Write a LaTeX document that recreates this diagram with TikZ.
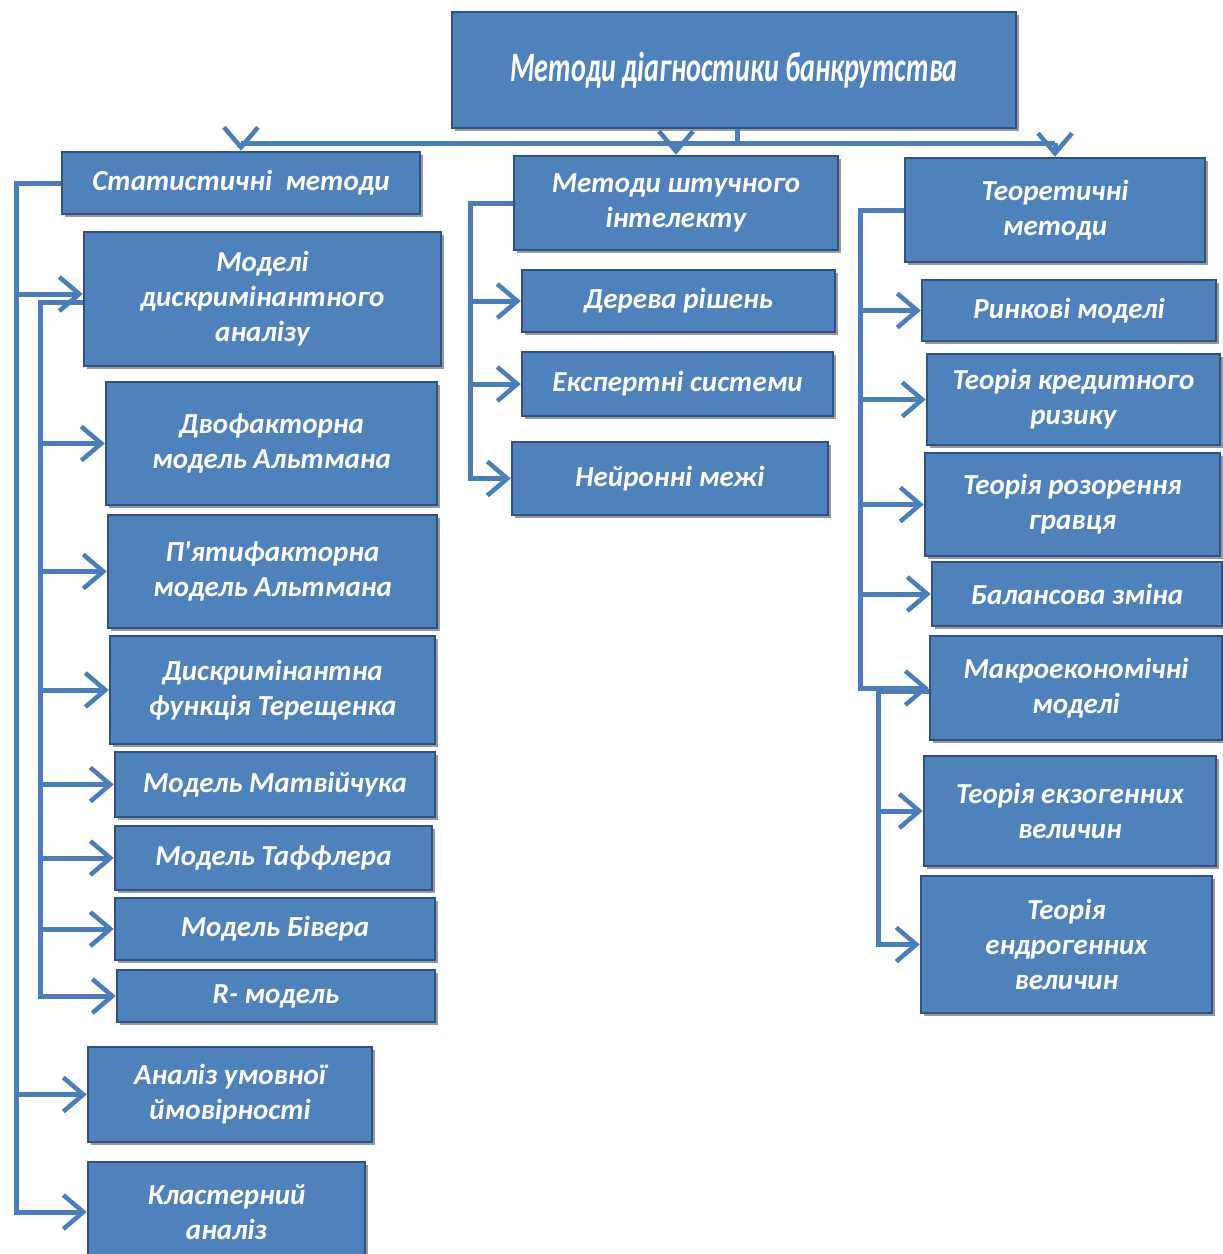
\documentclass[tikz,border=0pt]{standalone}
\usepackage{fontspec}
\usetikzlibrary{arrows.meta,shadows}
\newfontfamily\boxfont{Carlito}
\newfontfamily\titlefont{Carlito}[FakeStretch=0.67]
\definecolor{boxc}{HTML}{4F81BD}
\definecolor{bordc}{HTML}{2F5283}
\definecolor{linec}{HTML}{4A7EBB}
\tikzset{
  bx/.style={draw=bordc, line width=2.5pt, fill=boxc, text=white,
    font=\boxfont\bfseries\itshape\fontsize{29}{35}\selectfont,
    align=center, inner sep=2pt,
    drop shadow={shadow xshift=3pt, shadow yshift=-3pt, fill=black, opacity=.4}},
  ln/.style={draw=linec, line width=5pt},
  ar/.style={ln, -{Straight Barb[length=20pt, width=34pt, line width=4.5pt]}}
}
\begin{document}
\begin{tikzpicture}[x=1pt,y=-1pt]
\useasboundingbox[fill=white] (0,0) rectangle (1223,1254);

% top
\node[bx, minimum width=564, minimum height=116,
  font=\titlefont\bfseries\itshape\fontsize{42}{46}\selectfont] (top) at (734,70) {Методи діагностики банкрутства};

% left column
\node[bx, minimum width=358, minimum height=62] (stat) at (241,183) {Статистичні\ \ методи};
\node[bx, minimum width=357, minimum height=134] (mda) at (262.5,299) {Моделі\\дискримінантного\\аналізу};
\node[bx, minimum width=331, minimum height=123] (alt2) at (271.5,443.5) {Двофакторна\\модель Альтмана};
\node[bx, minimum width=329, minimum height=113] (alt5) at (272.5,571.5) {П'ятифакторна\\модель Альтмана};
\node[bx, minimum width=325, minimum height=108] (ter) at (272.5,690) {Дискримінантна\\функція Терещенка};
\node[bx, minimum width=320, minimum height=65] (mat) at (275,784.5) {Модель Матвійчука};
\node[bx, minimum width=317, minimum height=64] (taf) at (273.5,858) {Модель Таффлера};
\node[bx, minimum width=320, minimum height=62] (biv) at (275,929) {Модель Бівера};
\node[bx, minimum width=318, minimum height=52] (rmod) at (276,996) {R- модель};
\node[bx, minimum width=284, minimum height=95] (cond) at (230,1094.5) {Аналіз умовної\\ймовірності};
\node[bx, minimum width=277, minimum height=100] (clus) at (226.5,1212) {Кластерний\\аналіз};

% middle column
\node[bx, minimum width=324, minimum height=94] (ai) at (676,203) {Методи штучного\\інтелекту};
\node[bx, minimum width=313, minimum height=62] (tree) at (678.5,301) {Дерева рішень};
\node[bx, minimum width=311, minimum height=64] (exp) at (677.5,384) {Експертні системи};
\node[bx, minimum width=316, minimum height=73] (neur) at (670,478.5) {Нейронні межі};

% right column
\node[bx, minimum width=300, minimum height=104] (theo) at (1055,210) {Теоретичні\\методи};
\node[bx, minimum width=294, minimum height=61] (mkt) at (1069,310.5) {Ринкові моделі};
\node[bx, minimum width=293, minimum height=91] (cred) at (1073.5,399.5) {Теорія кредитного\\ризику};
\node[bx, minimum width=295, minimum height=103] (ruin) at (1072.5,504.5) {Теорія розорення\\гравця};
\node[bx, minimum width=290, minimum height=64] (bal) at (1077,594) {Балансова зміна};
\node[bx, minimum width=292, minimum height=104] (macro) at (1076,688) {Макроекономічні\\моделі};
\node[bx, minimum width=292, minimum height=110] (exo) at (1070,811) {Теорія екзогенних\\величин};
\node[bx, minimum width=291, minimum height=137] (endo) at (1066.5,944.5) {Теорія\\ендрогенних\\величин};

% trunk coordinates
\coordinate (hub) at (737,143);
\coordinate (L1) at (16,0);
\coordinate (L2) at (40,0);
\coordinate (L3) at (470,0);
\coordinate (L4) at (860,0);
\coordinate (L5) at (878,0);
\coordinate (mdain) at ([yshift=5pt]mda.west);
\coordinate (mdaout) at ([yshift=-3pt]mda.west);
\coordinate (macroout) at ([yshift=-3pt]macro.west);

% top connectors
\draw[ln] (top.south -| hub) -- (hub);
\draw[ln] (stat.north |- hub) -- (theo.north |- hub);
\draw[ar] (stat.north |- hub) -- (stat.north);
\draw[ar] (ai.north |- hub) -- (ai.north);
\draw[ar] (theo.north |- hub) -- (theo.north);

% left trunk 1
\draw[ar] (stat.west) -| (L1 |- clus.west) -- (clus.west);
\draw[ar] (L1 |- mdain) -- (mdain);
\draw[ar] (L1 |- cond.west) -- (cond.west);

% left trunk 2
\draw[ar] (mdaout) -| (L2 |- rmod.west) -- (rmod.west);
\foreach \n in {alt2,alt5,ter,mat,taf,biv}
  \draw[ar] (L2 |- \n.west) -- (\n.west);

% middle trunk
\draw[ar] (ai.west) -| (L3 |- neur.west) -- (neur.west);
\foreach \n in {tree,exp}
  \draw[ar] (L3 |- \n.west) -- (\n.west);

% right trunk 1
\draw[ar] (theo.west) -| (L4 |- macro.west) -- (macro.west);
\foreach \n in {mkt,cred,ruin,bal}
  \draw[ar] (L4 |- \n.west) -- (\n.west);

% right trunk 2
\draw[ar] (macroout) -| (L5 |- endo.west) -- (endo.west);
\draw[ar] (L5 |- exo.west) -- (exo.west);
\end{tikzpicture}
\end{document}
